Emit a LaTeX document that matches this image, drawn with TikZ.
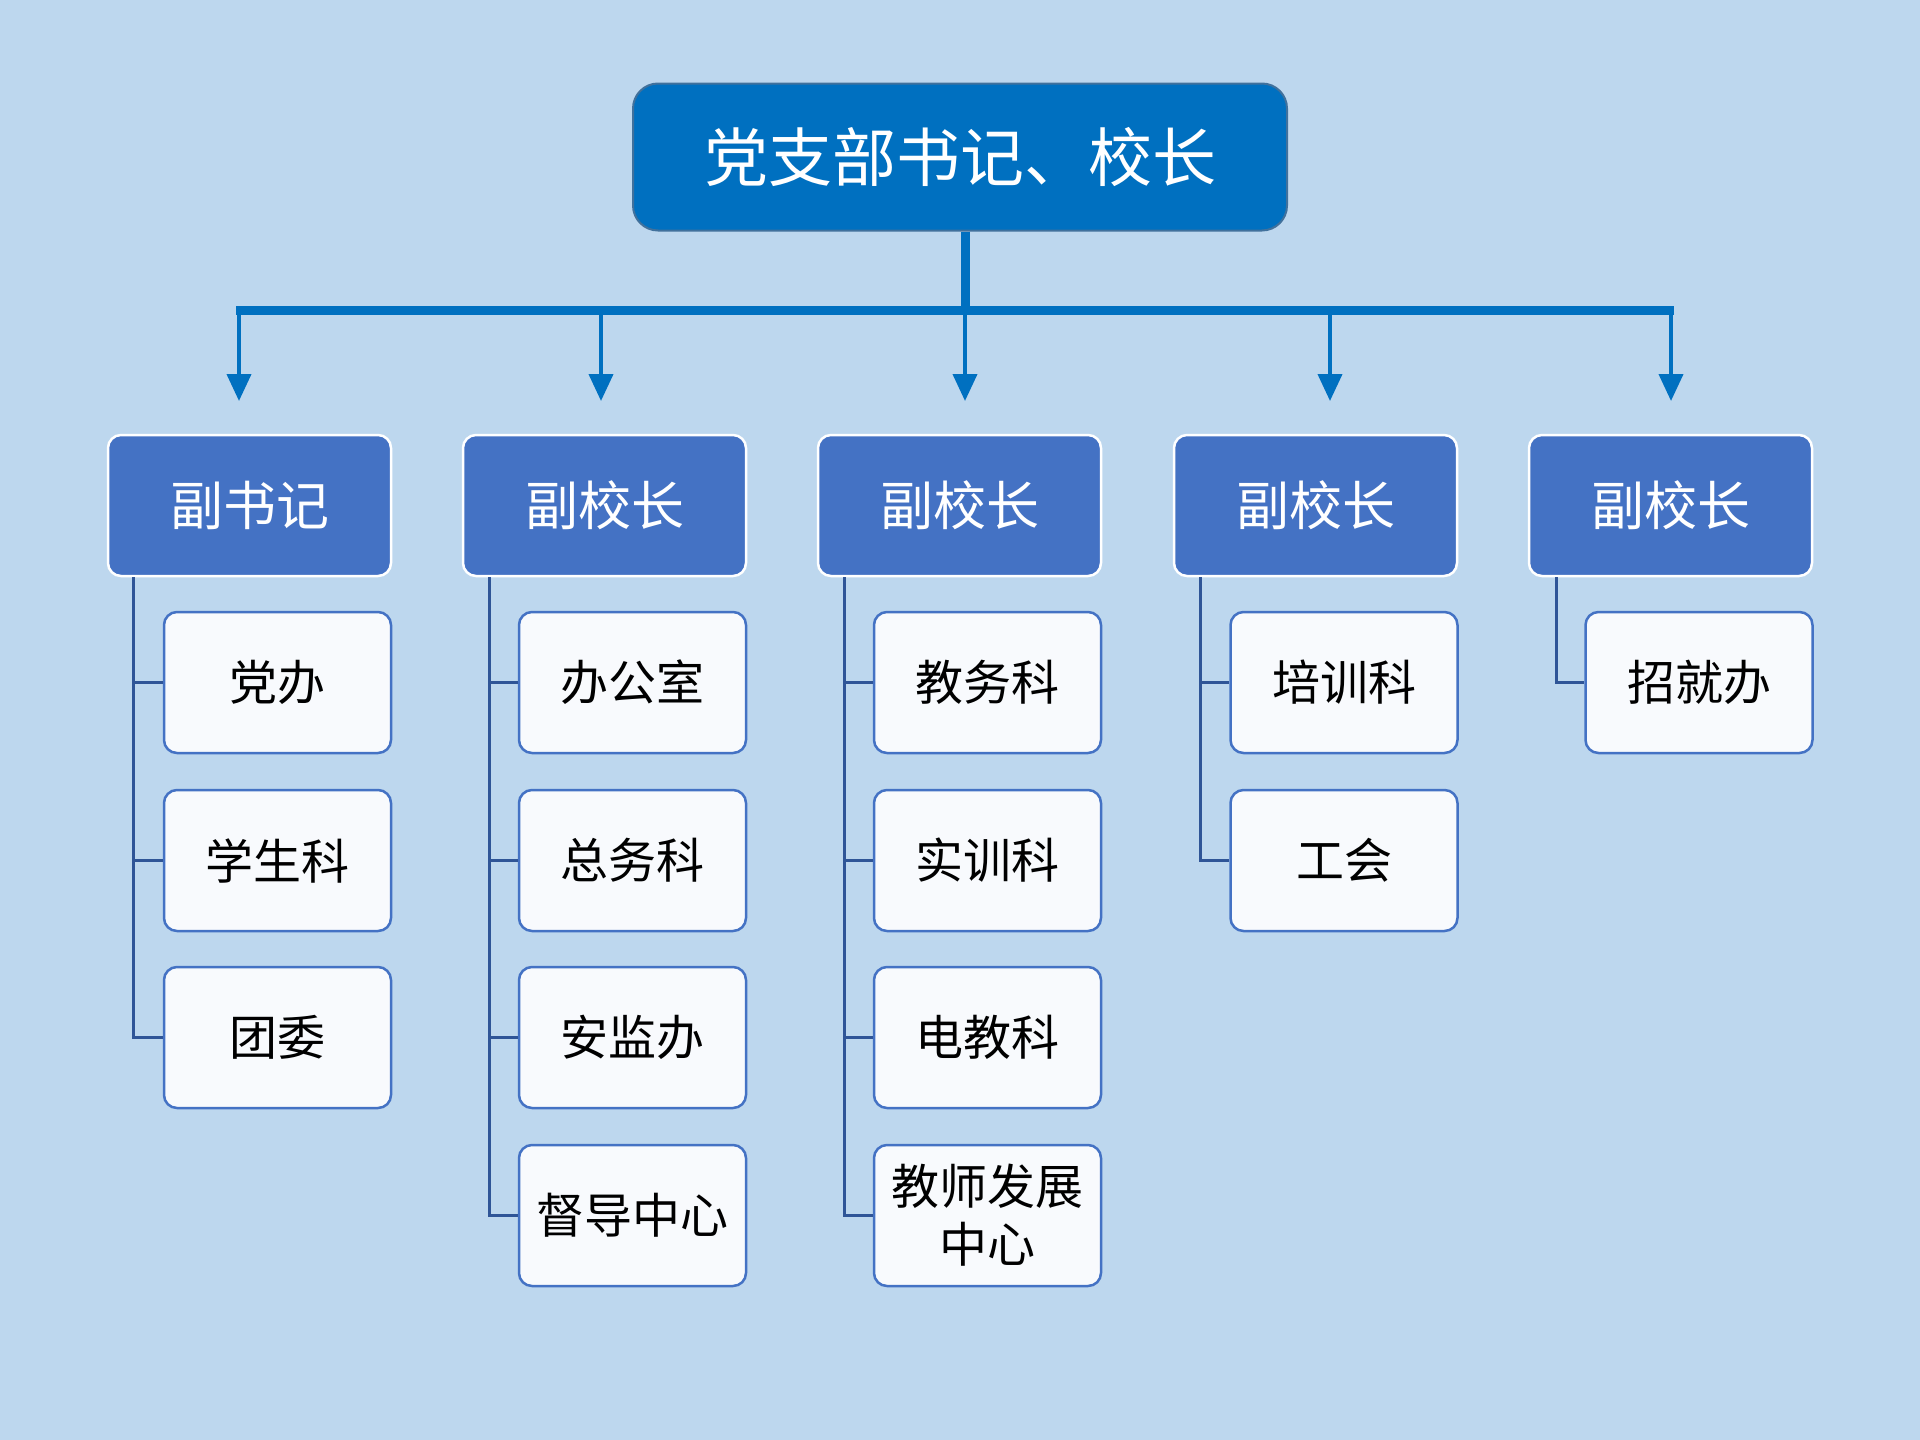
\documentclass[tikz,border=0pt]{standalone}
\usepackage{fontspec}
\setmainfont{Noto Sans CJK SC}
\usetikzlibrary{arrows.meta}
\definecolor{bgc}{HTML}{BDD7EE}
\definecolor{topc}{HTML}{0070C0}
\definecolor{topb}{HTML}{41719C}
\definecolor{midc}{HTML}{4472C4}
\definecolor{leafc}{HTML}{F8FAFD}
\definecolor{linec}{HTML}{2F5597}
\tikzset{
  topbox/.style={draw=topb, line width=2pt, fill=topc, rounded corners=25pt,
    minimum width=654pt, minimum height=147pt, inner sep=0pt, text=white,
    font=\fontsize{64}{70}\selectfont},
  midbox/.style={draw=white, line width=2.5pt, fill=midc, rounded corners=13pt,
    minimum width=283pt, minimum height=141pt, inner sep=0pt, text=white,
    font=\fontsize{53}{60}\selectfont},
  leafbox/.style={draw=midc, line width=2.5pt, fill=leafc, rounded corners=13pt,
    minimum width=227pt, minimum height=141pt, inner sep=0pt, text=black,
    align=center, font=\fontsize{48}{58}\selectfont},
  busline/.style={draw=topc, line width=9pt},
  arrowline/.style={draw=topc, line width=4pt, -{Triangle[length=27pt,width=24pt]}},
  tree/.style={draw=linec, line width=3pt},
}
\begin{document}
\begin{tikzpicture}[x=1pt,y=-1pt]
\fill[bgc] (0,0) rectangle (1920,1440);
\useasboundingbox (0,0) rectangle (1920,1440);

\node[topbox] (top) at (960,157) {党支部书记、校长};

\coordinate (bl) at (236,310);
\coordinate (bm) at (965,310);
\coordinate (br) at (1674,310);
\draw[busline] (top.south -| bm) -- (bm);
\draw[busline] (bl) -- (br);

\foreach \i/\x in {1/239,2/601,3/965,4/1330,5/1671}{
  \coordinate (a\i) at (\x,310);
  \coordinate (t\i) at (\x,401);
  \draw[arrowline] (a\i) -- (t\i);
}

% level 2
\node[midbox] (p1) at (249.5,505.5) {副书记};
\node[midbox] (p2) at (604.5,505.5) {副校长};
\node[midbox] (p3) at (959.5,505.5) {副校长};
\node[midbox] (p4) at (1315.5,505.5) {副校长};
\node[midbox] (p5) at (1670.5,505.5) {副校长};

% level 3
\node[leafbox] (c11) at (277.5,682.5) {党办};
\node[leafbox] (c12) at (277.5,860.5) {学生科};
\node[leafbox] (c13) at (277.5,1037.5) {团委};

\node[leafbox] (c21) at (632.5,682.5) {办公室};
\node[leafbox] (c22) at (632.5,860.5) {总务科};
\node[leafbox] (c23) at (632.5,1037.5) {安监办};
\node[leafbox] (c24) at (632.5,1215.5) {督导中心};

\node[leafbox] (c31) at (987.5,682.5) {教务科};
\node[leafbox] (c32) at (987.5,860.5) {实训科};
\node[leafbox] (c33) at (987.5,1037.5) {电教科};
\node[leafbox] (c34) at (987.5,1215.5) {教师发展\\中心};

\node[leafbox] (c41) at (1344,682.5) {培训科};
\node[leafbox] (c42) at (1344,860.5) {工会};

\node[leafbox] (c51) at (1699,682.5) {招就办};

% tree connectors
\foreach \c in {c11,c12,c13}{\draw[tree] ([xshift=27pt]p1.south west) |- (\c.west);}
\foreach \c in {c21,c22,c23,c24}{\draw[tree] ([xshift=28pt]p2.south west) |- (\c.west);}
\foreach \c in {c31,c32,c33,c34}{\draw[tree] ([xshift=28pt]p3.south west) |- (\c.west);}
\foreach \c in {c41,c42}{\draw[tree] ([xshift=28pt]p4.south west) |- (\c.west);}
\foreach \c in {c51}{\draw[tree] ([xshift=29pt]p5.south west) |- (\c.west);}
\end{tikzpicture}
\end{document}
